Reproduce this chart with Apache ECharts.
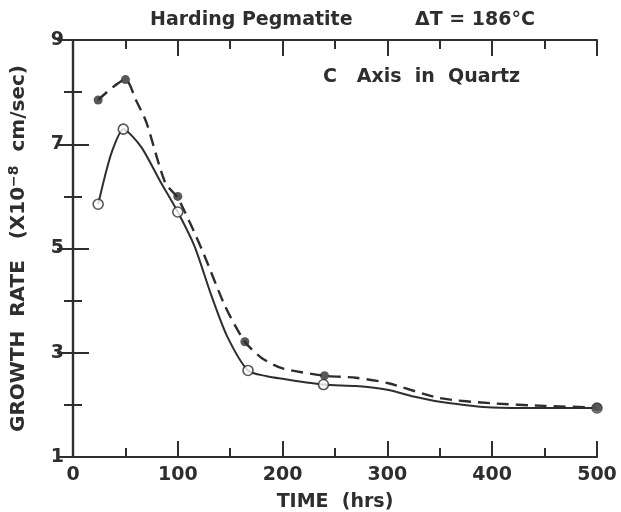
<!DOCTYPE html>
<html>
<head>
<meta charset="utf-8">
<script src="https://cdn.jsdelivr.net/npm/echarts@6/dist/echarts.min.js"></script>
<style>
  html, body { margin: 0; padding: 0; background: #fff; }
  #main { width: 621px; height: 512px; }
</style>
</head>
<body>
<div id="main"></div>
<script>
var chartDom = document.getElementById('main');
var myChart = echarts.init(chartDom);
var option;

// measured points (hrs, growth rate x1e-8 cm/sec)
var openPoints = [[24, 5.85], [48, 7.29], [100, 5.7], [167, 2.66], [239, 2.39], [500, 1.94]];
var filledPoints = [[24, 7.85], [50, 8.24], [100, 6.0], [164, 3.21], [240, 2.56], [500, 1.95]];

// hand-drawn curves
var solidCurve = [
  [24, 5.85], [30, 6.35], [37, 6.85], [48, 7.29], [65, 6.95], [84, 6.26], [100, 5.7],
  [116, 5.04], [132, 4.1], [147, 3.32], [167, 2.66], [185, 2.55], [200, 2.5], [239, 2.39],
  [270, 2.36], [300, 2.29], [325, 2.16], [350, 2.06], [400, 1.95], [450, 1.94], [500, 1.94]
];
var dashedCurve = [
  [24, 7.85], [50, 8.24], [60, 7.85], [70, 7.42], [88, 6.26], [100, 5.97], [123, 4.98],
  [145, 3.9], [164, 3.21], [180, 2.9], [200, 2.7], [240, 2.56], [270, 2.52], [300, 2.42],
  [350, 2.13], [400, 2.03], [450, 1.98], [500, 1.95]
];

var xTicks = [0, 100, 200, 300, 400, 500];
var yTicks = [1, 3, 5, 7, 9];

var ink = '#2e2e2e';
var font = 'DejaVu Sans';

function axisBase() {
  return {
    axisLine: { show: true, lineStyle: { color: ink, width: 2.2 } },
    splitLine: { show: false },
    axisTick: { show: true, inside: true, length: 16, lineStyle: { color: ink, width: 2 } },
    minorTick: { show: true, splitNumber: 2, length: 9, lineStyle: { color: ink, width: 2 } },
    minorSplitLine: { show: false }
  };
}

option = {
  animation: false,
  backgroundColor: '#fff',
  graphic: [
    { type: 'text', left: 150, top: 11,
      style: { text: 'Harding Pegmatite', font: 'bold 19px "DejaVu Sans"', fill: ink } },
    { type: 'text', left: 415, top: 11,
      style: { text: 'ΔT = 186°C', font: 'bold 19px "DejaVu Sans"', fill: ink } },
    { type: 'text', left: 323, top: 68,
      style: { text: 'C   Axis  in  Quartz', font: 'bold 19px "DejaVu Sans"', fill: ink } }
  ],
  grid: { left: 73, right: 24, top: 40, bottom: 55, outerBoundsMode: 'none', containLabel: false },
  xAxis: [
    Object.assign(axisBase(), {
      type: 'value', min: xTicks[0], max: xTicks[xTicks.length - 1], interval: 100,
      name: 'TIME  (hrs)', nameLocation: 'middle', nameGap: 36,
      nameTextStyle: { fontFamily: font, fontWeight: 'bold', fontSize: 19, color: ink },
      axisLabel: { fontFamily: font, fontWeight: 'bold', fontSize: 19, color: ink, margin: 9 }
    }),
    Object.assign(axisBase(), {
      type: 'value', position: 'top', min: 0, max: 500, interval: 100,
      axisLabel: { show: false }
    })
  ],
  yAxis: [
    Object.assign(axisBase(), {
      type: 'value', min: yTicks[0], max: yTicks[yTicks.length - 1], interval: 2,
      name: '{a|GROWTH  RATE   (X10}{s|−8}{a|  cm/sec)}', nameLocation: 'middle', nameGap: 42,
      nameTextStyle: {
        rich: {
          a: { fontFamily: font, fontWeight: 'bold', fontSize: 20, color: ink },
          s: { fontFamily: font, fontWeight: 'bold', fontSize: 14, color: ink, padding: [0, 0, 10, 0] }
        }
      },
      axisLabel: { fontFamily: font, fontWeight: 'bold', fontSize: 19, color: ink, margin: 9 }
    }),
    Object.assign(axisBase(), {
      type: 'value', position: 'right', min: 1, max: 9, interval: 2,
      axisLabel: { show: false }
    })
  ],
  series: [
    {
      type: 'line', data: solidCurve, smooth: 0.25, showSymbol: false,
      lineStyle: { color: ink, width: 2 }, z: 2
    },
    {
      type: 'line', data: dashedCurve, smooth: 0.25, showSymbol: false,
      lineStyle: { color: ink, width: 2.4, type: [12, 7] }, z: 2
    },
    {
      type: 'scatter', data: openPoints, symbol: 'circle', symbolSize: 10,
      itemStyle: { color: '#fff', borderColor: ink, borderWidth: 1.6 }, z: 3
    },
    {
      type: 'scatter', data: filledPoints, symbol: 'circle', symbolSize: 9,
      itemStyle: { color: ink }, z: 3
    }
  ]
};

if (chartDom && myChart) {
  myChart.setOption(option);
} else {
  console.error('Failed to initialize the chart');
}
</script>
</body>
</html>
